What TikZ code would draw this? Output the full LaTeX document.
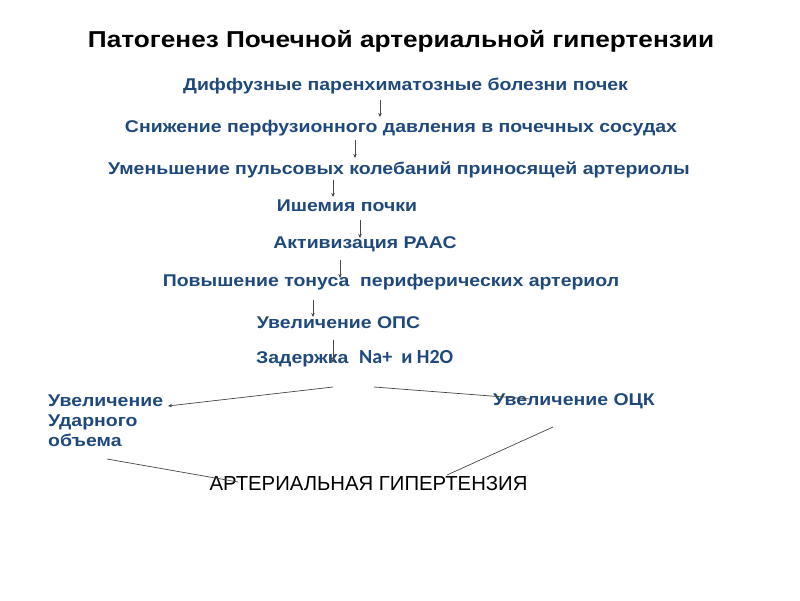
\documentclass[tikz,border=0pt]{standalone}
\usepackage{fontspec}
\setmainfont{Liberation Sans}
\newfontfamily\calfont{Carlito}
\newfontfamily\widefont[FakeStretch=1.145]{Liberation Sans}
\newfontfamily\titlefont[FakeStretch=1.14]{Liberation Sans}
\usetikzlibrary{arrows.meta}
\definecolor{tblue}{RGB}{31,73,125}
\definecolor{lgray}{RGB}{70,70,70}
\begin{document}
\begin{tikzpicture}[x=1pt,y=1pt,
  lbl/.style={text=tblue, font=\widefont\bfseries\fontsize{17}{20}\selectfont, inner sep=0},
  arr/.style={draw=lgray, line width=0.7pt, -{Stealth[length=4pt,width=3.5pt]}},
  ln/.style={draw=lgray, line width=0.7pt}]
\useasboundingbox (0,0) rectangle (800,600);
\node[font=\titlefont\bfseries\fontsize{23}{28}\selectfont, inner sep=0] (title) at (401,558.5) {Патогенез Почечной артериальной гипертензии};
\node[lbl] (n1) at (405.5,513.5) {Диффузные паренхиматозные болезни почек};
\node[lbl] (n2) at (401,471.5) {Снижение перфузионного давления в почечных сосудах};
\node[lbl] (n3) at (399,430.5) {Уменьшение пульсовых колебаний приносящей артериолы};
\node[lbl] (n4) at (347,394) {Ишемия почки};
\node[lbl] (n5) at (365,356) {Активизация РААС};
\node[lbl] (n6) at (391,318) {Повышение тонуса\ \ периферических артериол};
\node[lbl] (n7) at (338.5,277) {Увеличение ОПС};
\node[lbl, anchor=west] (n8) at (256,241) {Задержка\ \ {\calfont\fontsize{20}{20}\selectfont Na+\ \ и H2O}};
\node[lbl, anchor=west, align=left] (n9) at (48,179) {Увеличение\\Ударного\\объема};
\node[lbl] (n10) at (574,199) {Увеличение ОЦК};
\node[font=\fontsize{20.3}{24}\selectfont, inner sep=0] (n11) at (368.5,116) {АРТЕРИАЛЬНАЯ ГИПЕРТЕНЗИЯ};
% arrow coordinates
\coordinate (a1s) at (380,500); \coordinate (a1e) at (380,483);
\coordinate (a2s) at (355,460); \coordinate (a2e) at (355,442);
\coordinate (a3s) at (333,420); \coordinate (a3e) at (333,403);
\coordinate (a4s) at (360,380); \coordinate (a4e) at (360,362);
\coordinate (a5s) at (340,340); \coordinate (a5e) at (340,322);
\coordinate (a6s) at (313,300); \coordinate (a6e) at (313,283);
\coordinate (a7s) at (333,260); \coordinate (a7e) at (333,237);
\coordinate (b1s) at (333,213); \coordinate (b1e) at (168,194);
\coordinate (b2s) at (374,213); \coordinate (b2e) at (530,201);
\coordinate (c1s) at (107,141); \coordinate (c1e) at (238,118);
\coordinate (c2s) at (553,173); \coordinate (c2e) at (447,125);
\draw[arr] (a1s) -- (a1e);
\draw[arr] (a2s) -- (a2e);
\draw[arr] (a3s) -- (a3e);
\draw[arr] (a4s) -- (a4e);
\draw[arr] (a5s) -- (a5e);
\draw[arr] (a6s) -- (a6e);
\draw[arr] (a7s) -- (a7e);
\draw[arr] (b1s) -- (b1e);
\draw[ln] (b2s) -- (b2e);
\draw[ln] (c1s) -- (c1e);
\draw[ln] (c2s) -- (c2e);
\end{tikzpicture}
\end{document}
